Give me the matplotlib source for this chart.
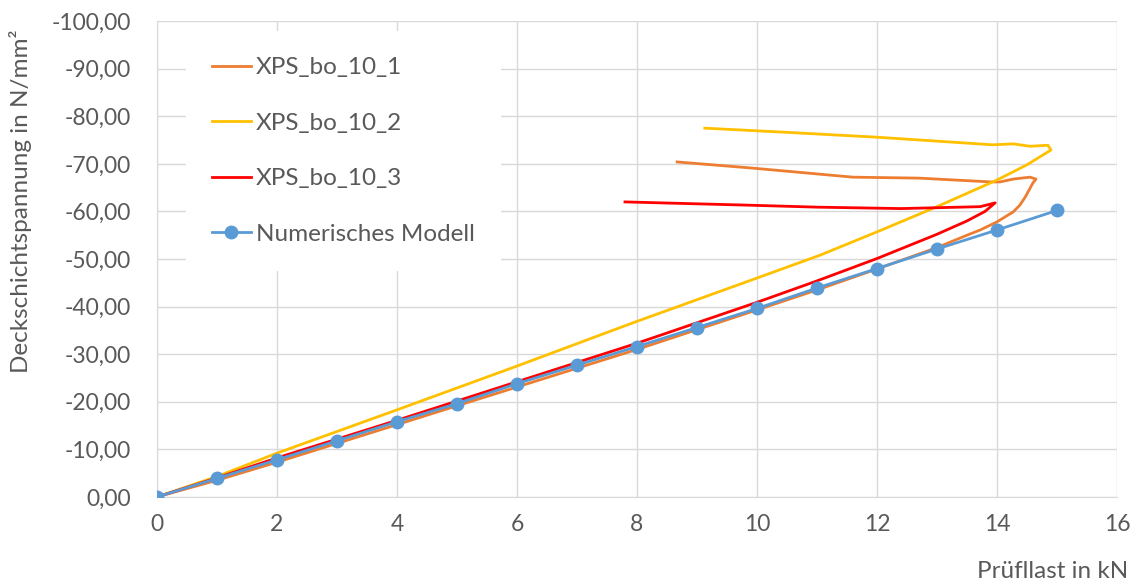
import numpy as np
import matplotlib.pyplot as plt
from matplotlib.ticker import FuncFormatter, MultipleLocator

plt.rcParams['font.family'] = ['Lato', 'DejaVu Sans']

# XPS_bo_10_1 (load up, then drop back)
x1 = [0, 1, 2, 4, 6, 8, 10, 11, 12, 13, 13.5, 13.72, 14.0, 14.27, 14.38, 14.47,
      14.6, 14.65, 14.55, 14.27, 14.05, 13.9, 12.7, 11.6, 9.93, 8.67]
y1 = [0, -3.5, -7.3, -15.2, -23.1, -31.0, -39.3, -43.5, -47.9, -52.4, -55.0, -56.1,
      -57.8, -59.9, -61.3, -63.0, -66.0, -66.8, -67.2, -66.8, -66.2, -66.2, -67.0,
      -67.2, -69.1, -70.4]

# XPS_bo_10_2
x2 = [0, 1, 2, 4, 6, 7.38, 8, 10, 11.05, 12, 13, 14, 14.5, 14.9, 14.85, 14.55,
      14.27, 13.93, 12.0, 10.38, 9.13]
y2 = [0, -4.3, -9.2, -18.3, -27.5, -34.0, -36.9, -46.0, -50.8, -55.7, -61.0, -66.6,
      -69.8, -72.9, -73.9, -73.7, -74.2, -74.0, -75.6, -76.7, -77.5]

# XPS_bo_10_3
x3 = [0, 1, 2, 4, 6, 8, 10, 11, 12, 13, 13.5, 13.8, 13.97, 13.72, 12.4, 11.0, 9.9, 7.8]
y3 = [0, -4.0, -8.2, -16.1, -24.2, -32.3, -40.9, -45.4, -50.1, -55.2, -58.0, -60.0,
      -61.8, -61.0, -60.6, -60.9, -61.3, -62.0]

# Numerisches Modell
xm = list(range(16))
ym = [0, -3.9, -7.8, -11.8, -15.8, -19.6, -23.8, -27.7, -31.6, -35.6, -39.6, -43.9,
      -48.0, -52.1, -56.1, -60.2]

grey = '#595959'
fig = plt.figure(figsize=(11.4, 5.86), dpi=100)
ax = fig.add_axes([0.1377, 0.152, 0.8421, 0.812])

ax.plot(x1, y1, color='#ED7D31', lw=2.0, label='XPS_bo_10_1', zorder=3)
ax.plot(x2, y2, color='#FFC000', lw=2.0, label='XPS_bo_10_2', zorder=3)
ax.plot(x3, y3, color='#FF0000', lw=2.0, label='XPS_bo_10_3', zorder=4)
ax.plot(xm, ym, color='#5B9BD5', lw=2.0, marker='o', ms=9, label='Numerisches Modell', zorder=5)

ax.set_xlim(0, 16)
ax.set_ylim(0, -100)
ax.xaxis.set_major_locator(MultipleLocator(2))
ax.yaxis.set_major_locator(MultipleLocator(10))
ax.yaxis.set_major_formatter(FuncFormatter(lambda v, p: f'{v:.2f}'.replace('.', ',')))
ax.grid(True, color='#d9d9d9', lw=1)
ax.set_axisbelow(True)
for s in ['top', 'right']:
    ax.spines[s].set_visible(False)
for s in ['left', 'bottom']:
    ax.spines[s].set_color('#d9d9d9')
ax.tick_params(length=0, labelsize=16.5, labelcolor=grey)
ax.tick_params(axis='y', pad=19)
ax.tick_params(axis='x', pad=12)

ax.set_ylabel('Deckschichtspannung in N/mm²', fontsize=17.5, color=grey)
ax.yaxis.set_label_coords(-0.130, 0.622)
fig.text(0.99, 0.024, 'Prüfllast in kN', ha='right', va='center', fontsize=17.5, color=grey)

leg = ax.legend(loc='upper left', bbox_to_anchor=(0.0175, 1.004), fontsize=17.5,
                labelspacing=1.42, handlelength=1.6, handletextpad=0.2,
                borderpad=1.07, frameon=True, fancybox=False)
leg.get_frame().set_edgecolor('none')
leg.get_frame().set_facecolor('white')
leg.get_frame().set_alpha(1)
for t in leg.get_texts():
    t.set_color(grey)

fig.savefig('out.png', dpi=100)
